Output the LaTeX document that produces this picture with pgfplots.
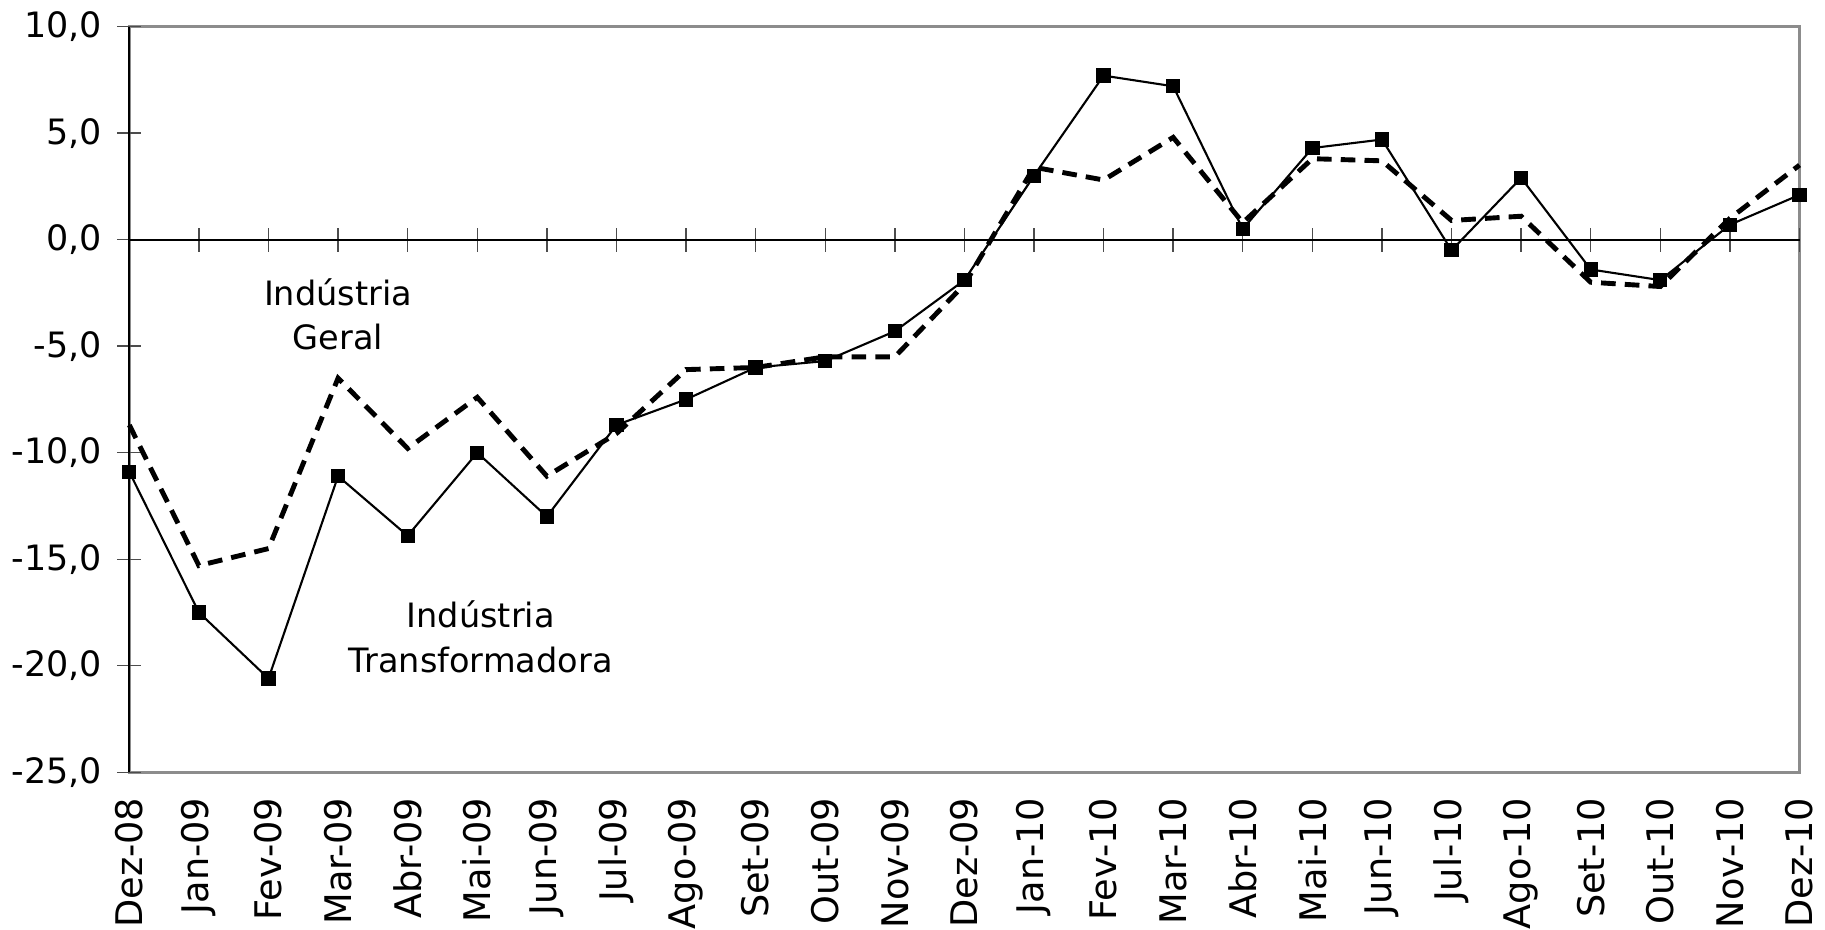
\documentclass[border=0pt]{standalone}
\usepackage{pgfplots}
\pgfplotsset{compat=1.18}
\usepackage{fontspec}
\setmainfont{DejaVu Sans}

% monthly rates, Dez-08 .. Dez-10 (index 0..24)
\pgfplotstableread{
x   y
0  -10.9
1  -17.5
2  -20.6
3  -11.1
4  -13.9
5  -10.0
6  -13.0
7  -8.7
8  -7.5
9  -6.0
10 -5.7
11 -4.3
12 -1.9
13  3.0
14  7.7
15  7.2
16  0.5
17  4.3
18  4.7
19 -0.5
20  2.9
21 -1.4
22 -1.9
23  0.7
24  2.1
}\transf
\pgfplotstableread{
x   y
0  -8.7
1  -15.3
2  -14.5
3  -6.5
4  -9.8
5  -7.4
6  -11.1
7  -9.1
8  -6.1
9  -6.0
10 -5.5
11 -5.5
12 -2.1
13  3.4
14  2.8
15  4.8
16  0.8
17  3.8
18  3.7
19  0.9
20  1.1
21 -2.0
22 -2.2
23  1.0
24  3.5
}\geral

\begin{document}
\begin{tikzpicture}
\pgfplotsset{
  base/.style={
    scale only axis,
    width=16.8cm, height=7.5cm,
    xmin=0, xmax=24, ymin=-25, ymax=10,
    enlargelimits=false,
    xtick={0,...,24},
    ytick={-25,-20,...,10},
  },
}
% frame and tick labels
\begin{axis}[base,
  axis line style={draw=black!45, line width=0.8pt},
  major tick length=0pt,
  xticklabels={Dez-08,Jan-09,Fev-09,Mar-09,Abr-09,Mai-09,Jun-09,Jul-09,Ago-09,Set-09,Out-09,Nov-09,Dez-09,
               Jan-10,Fev-10,Mar-10,Abr-10,Mai-10,Jun-10,Jul-10,Ago-10,Set-10,Out-10,Nov-10,Dez-10},
  xticklabel style={rotate=90, anchor=east, inner xsep=0pt, xshift=-2.5mm, font=\fontsize{10.5}{12}\selectfont},
  yticklabel style={xshift=-1.5mm, font=\fontsize{10}{12}\selectfont},
  /pgf/number format/.cd, fixed, fixed zerofill, precision=1, use comma, assume math mode=true,
]
\end{axis}
% zero line, left axis, ticks and the two series
\begin{axis}[base,
  axis x line=middle, axis y line=left,
  x axis line style={-, draw=black, line width=0.5pt},
  y axis line style={-, draw=black, line width=0.5pt},
  xticklabels={}, yticklabels={},
  tick align=center, major tick length=2.4mm,
  tick style={draw=black!70, line width=0.4pt},
  clip=false,
]
\addplot[black, line width=1.4pt, dash pattern=on 4.2pt off 2.6pt] table[x=x,y=y] {\geral};
\addplot[black, line width=0.6pt, mark=square*, mark size=1.75pt, mark options={solid}] table[x=x,y=y] {\transf};
\node[align=center, font=\fontsize{9.6}{12.8}\selectfont] at (axis cs:3,-3.5) {Indústria\\Geral};
\node[align=center, font=\fontsize{9.6}{12.8}\selectfont] at (axis cs:5.05,-18.65) {Indústria\\Transformadora};
\end{axis}
\end{tikzpicture}
\end{document}
